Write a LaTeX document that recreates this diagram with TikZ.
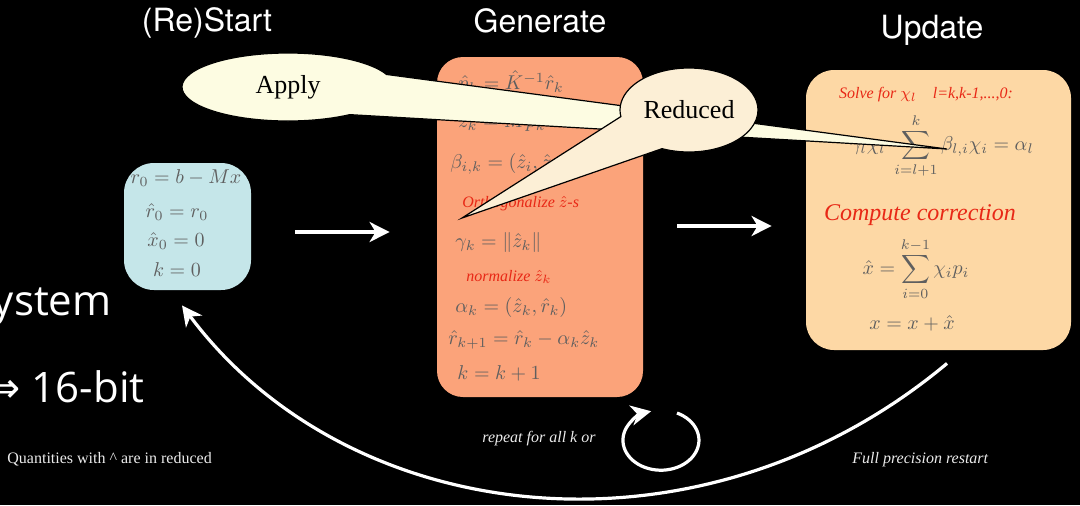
\documentclass[tikz,border=0pt]{standalone}
\usepackage{fontspec}
\setmainfont{Liberation Serif}
\newfontfamily\headfont{TeX Gyre Heros}
\newfontfamily\bigfont{Open Sans}
\newfontfamily\symfont{DejaVu Sans}
\usetikzlibrary{arrows.meta,shapes.callouts}

\definecolor{startcol}{RGB}{197,230,233}
\definecolor{gencol}{RGB}{251,163,122}
\definecolor{updcol}{RGB}{253,216,165}
\definecolor{applycol}{RGB}{253,252,226}
\definecolor{reducedcol}{RGB}{252,239,214}
\definecolor{redcol}{RGB}{232,40,22}
\definecolor{eqcol}{RGB}{95,95,95}

\tikzset{
  box/.style={rounded corners=14pt, inner sep=0pt},
  eq/.style={text=eqcol, inner sep=0pt},
  note/.style={text=redcol, inner sep=0pt, font=\fontsize{8}{9.5}\selectfont\itshape},
  head/.style={text=white, inner sep=0pt, font=\headfont\fontsize{16}{18}\selectfont},
  remark/.style={text=white!92!black, inner sep=0pt, font=\fontsize{8}{9.5}\selectfont},
  flow/.style={white, line width=1.8pt, -{Stealth[length=10pt,width=10pt,inset=3pt]}},
  bubble/.style={ellipse callout, draw=black, line width=0.6pt, inner sep=0pt, font=\fontsize{13}{15}\selectfont},
}

\begin{document}
\begin{tikzpicture}[x=0.5pt, y=-0.5pt]
  \fill[black] (0,0) rectangle (1080,505);
  \useasboundingbox (0,0) rectangle (1080,505);
  \clip (0,0) rectangle (1080,505);

  \node[head, anchor=base] (hstart) at (207,31) {(Re)Start};
  \node[head, anchor=base] (hgen) at (540,32) {Generate};
  \node[head, anchor=base] (hupd) at (932,38) {Update};

  \node[text=white, inner sep=0pt, font=\bigfont\fontsize{21}{24}\selectfont, anchor=base east] (sys) at (112,315) {ystem};
  \node[text=white, inner sep=0pt, font=\bigfont\fontsize{21}{24}\selectfont, anchor=base east] (bits) at (145,402) {{\symfont ⇒}~16-bit};

  \node[box, rounded corners=15pt, fill=startcol, minimum width=63.5pt, minimum height=63.5pt] (start) at (187.5,226.5) {};
  \node[box, rounded corners=13pt, fill=gencol, minimum width=103pt, minimum height=170pt] (gen) at (540,227) {};
  \node[box, fill=updcol, minimum width=132.5pt, minimum height=140pt] (update) at (938.5,210) {};

  \node[eq] (s1) at (186,178) {$r_0=b-Mx$};
  \node[eq] (s2) at (177,212) {$\hat r_0=r_0$};
  \node[eq] (s3) at (176,241) {$\hat x_0=0$};
  \node[eq] (s4) at (177,270) {$k=0$};

  \node[eq, anchor=west] (g1) at (458,82) {$\hat p_k=\hat K^{-1}\hat r_k$};
  \node[eq, anchor=west] (g2) at (458,120) {$\hat z_k=\hat M\hat p_k$};
  \node[eq, anchor=west] (g3) at (450,164) {$\beta_{i,k}=(\hat z_i,\hat z_k)$};
  \node[note, anchor=west] (g4) at (462,204) {Orthogonalize $\hat z$-s};
  \node[eq, anchor=west] (g5) at (455,242) {$\gamma_k=\|\hat z_k\|$};
  \node[note, anchor=west] (g6) at (466,277) {normalize $\hat z_k$};
  \node[eq, anchor=west] (g7) at (455,307) {$\alpha_k=(\hat z_k,\hat r_k)$};
  \node[eq, anchor=west] (g8) at (448,340) {$\hat r_{k+1}=\hat r_k-\alpha_k\hat z_k$};
  \node[eq, anchor=west] (g9) at (457,373) {$k=k+1$};

  \node[note] (u1) at (926,95) {Solve for $\chi_l$\quad l=k,k-1,...,0:};
  \node[eq] (u2) at (942,146) {$\displaystyle\gamma_l\chi_l\;\sum_{i=l+1}^{k}\beta_{l,i}\chi_i=\alpha_l$};
  \node[note, font=\fontsize{12}{14}\selectfont\itshape] (u3) at (920,215) {Compute correction};
  \node[eq] (u4) at (916,269) {$\displaystyle\hat x=\sum_{i=0}^{k-1}\chi_i p_i$};
  \node[eq] (u5) at (912,323) {$x=x+\hat x$};

  \draw[flow] ([xshift=22pt,yshift=-2.75pt]start.east) -- ([xshift=-23.5pt,yshift=-2.5pt]gen.west);
  \draw[flow] ([xshift=17pt,yshift=0.5pt]gen.east) -- ([xshift=-17pt,yshift=-8pt]update.west);
  \draw[flow, line width=1.6pt] ([xshift=4.25pt,yshift=-6.5pt]update.south) .. controls (700,570) and (350,530) .. ([xshift=-2.75pt,yshift=-7.5pt]start.south);

  \coordinate (loop) at (677,413);
  \draw[flow, line width=1.6pt] (loop) arc[start angle=65, end angle=-255, x radius=19pt, y radius=15pt];

  \node[remark, anchor=base west] (quant) at (7,463) {Quantities with \textasciicircum{} are in reduced};
  \node[remark, font=\fontsize{8}{9.5}\selectfont\itshape, anchor=base west] (again) at (482,442) {repeat for all k or};
  \node[remark, font=\fontsize{8}{9.5}\selectfont\itshape, anchor=base west] (full) at (852,463) {Full precision restart};

  \coordinate (applytip) at (947,149);
  \coordinate (redtip) at (462,218);
  \node[bubble, fill=applycol, minimum width=106pt, minimum height=34pt, callout absolute pointer={(applytip)}, callout pointer arc=76] (apply) at (288,87) {Apply};
  \node[bubble, fill=reducedcol, minimum width=69pt, minimum height=42pt, callout absolute pointer={(redtip)}, callout pointer arc=58] (reduced) at (689,110) {Reduced};
\end{tikzpicture}
\end{document}
